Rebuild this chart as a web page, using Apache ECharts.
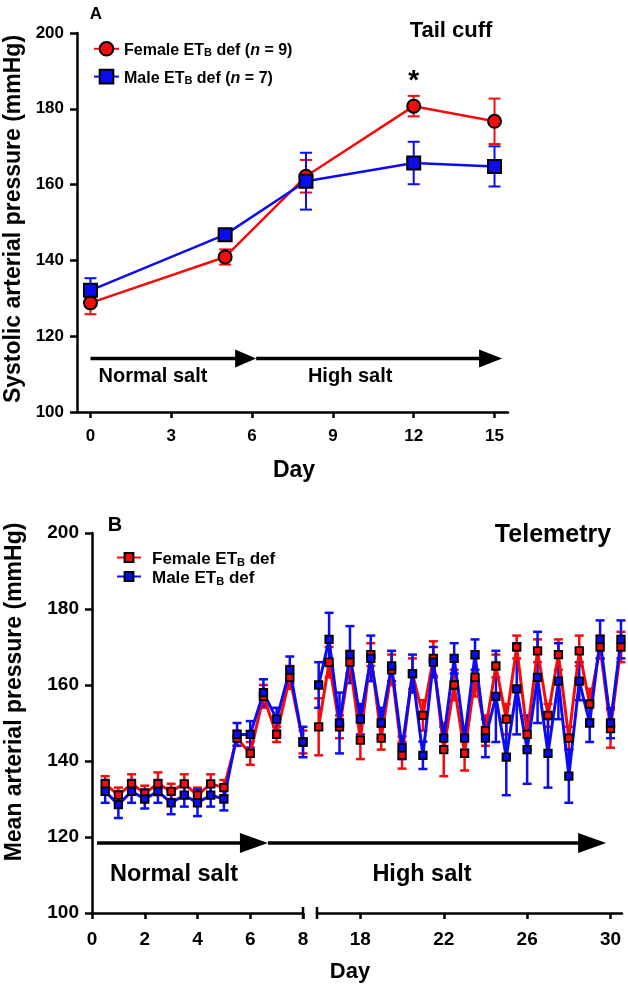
<!DOCTYPE html>
<html><head><meta charset="utf-8">
<script src="https://cdn.jsdelivr.net/npm/echarts@6/dist/echarts.min.js"></script>
<style>html,body{margin:0;padding:0;background:#fff}#main{width:628px;height:989px}</style>
</head><body><div id="main"></div>
<script>
const FONT = "'Liberation Sans', Arial, Helvetica, sans-serif";
const RED = '#f40c0c';
const BLUE = '#0c0cf0';

// ---------- Panel A : Tail cuff ----------
const daysA = [0, 5, 8, 12, 15];
const femaleA = [128.8, 140.9, 162.2, 180.7, 176.7];
const femaleAErr = [3.0, 2.0, 4.3, 2.7, 6.0];
const maleA = [132.1, 146.8, 160.9, 165.7, 164.8];
const maleAErr = [3.2, 1.5, 7.5, 5.6, 5.3];
const ticksA = [0, 3, 6, 9, 12, 15];

// ---------- Panel B : Telemetry ----------
const daysBLeft = [0.5, 1, 1.5, 2, 2.5, 3, 3.5, 4, 4.5, 5, 5.5, 6, 6.5, 7, 7.5, 8];
const femaleBLeft = [134, 131, 134, 131.5, 134, 132, 134, 131, 134, 133, 146, 142, 157, 147, 162, 145];
const femaleBLeftErr = [2, 2, 2.5, 2, 3, 2, 2.5, 2, 2.5, 2, 2, 3, 3, 2, 3, 3];
const maleBLeft = [132, 128.5, 132, 130, 132, 129, 131, 129, 131, 130, 147, 147, 158, 151, 164, 145];
const maleBLeftErr = [3, 3.5, 3, 2.5, 3, 3, 3, 3.5, 3, 3, 3, 3.5, 3.5, 3, 3.5, 4];

const daysBRight = [16, 16.5, 17, 17.5, 18, 18.5, 19, 19.5, 20, 20.5, 21, 21.5, 22, 22.5, 23,
                    23.5, 24, 24.5, 25, 25.5, 26, 26.5, 27, 27.5, 28, 28.5, 29, 29.5, 30, 30.5];
const femaleBRight = [149, 166, 149, 166, 145.5, 168, 146, 164, 141.5, 163, 152, 167, 143, 160, 142,
                      162, 148, 165, 151, 170, 147, 169, 152, 168, 146, 169, 155, 170, 148.5, 170];
const femaleBRightErr = [7.5, 4, 3, 3, 5, 3, 3, 4, 3.5, 4, 4, 4.5, 7, 4, 4.5,
                         5, 4, 3, 4, 3, 4, 3, 3, 4, 3, 4, 4, 3, 5, 4];
const maleBRight = [160, 172, 150, 168, 151, 167, 150, 165, 143.5, 163, 141.5, 166, 146, 167, 146,
                    168, 146, 157, 141, 159, 143, 162, 142, 161, 136, 161, 150, 172, 150, 172];
const maleBRightErr = [6, 7, 8, 7.5, 4, 6, 4, 4, 3, 5, 3.6, 4, 3, 4, 3,
                       4, 5, 12, 10, 12, 9, 12, 9, 10, 7, 5, 5, 5, 4, 5];
const ticksBLeft = [0, 2, 4, 6, 8];
const ticksBRight = [18, 22, 26, 30];

// ---------- helpers ----------
function triples(xs, ys, es) { return xs.map((x, i) => [x, ys[i], es[i]]); }
function pairs(xs, ys) { return xs.map((x, i) => [x, ys[i]]); }
function errRender(color, capHalf, lw) {
  return function (params, api) {
    const x = api.value(0), y = api.value(1), e = api.value(2);
    const t = api.coord([x, y + e]);
    const b = api.coord([x, y - e]);
    const st = { stroke: color, lineWidth: lw, fill: null };
    return { type: 'group', children: [
      { type: 'line', shape: { x1: t[0], y1: t[1], x2: b[0], y2: b[1] }, style: st },
      { type: 'line', shape: { x1: t[0] - capHalf, y1: t[1], x2: t[0] + capHalf, y2: t[1] }, style: st },
      { type: 'line', shape: { x1: b[0] - capHalf, y1: b[1], x2: b[0] + capHalf, y2: b[1] }, style: st }
    ] };
  };
}
function errSeries(name, gi, data, color, capHalf, lw) {
  return { type: 'custom', name: name, xAxisIndex: gi, yAxisIndex: gi, data: data,
    encode: { x: 0, y: 1 }, renderItem: errRender(color, capHalf, lw), clip: false, silent: true, z: 2 };
}
function lineSeries(name, gi, data, color, symbol, size, lw, bw) {
  return { type: 'line', name: name, xAxisIndex: gi, yAxisIndex: gi, data: data,
    symbol: symbol, symbolSize: size, showAllSymbol: true, clip: false, z: 3,
    lineStyle: { color: color, width: lw },
    itemStyle: { color: color, borderColor: '#000', borderWidth: bw },
    emphasis: { disabled: true }, animation: false };
}
const axisLine = { show: true, onZero: false, lineStyle: { color: '#000', width: 2.5 } };
function yAxisDef(gi, fs, show) {
  return { type: 'value', gridIndex: gi, min: 100, max: 200, interval: 20, show: show,
    axisLine: axisLine, splitLine: { show: false },
    axisTick: { show: true, length: 7, lineStyle: { color: '#000', width: 2.5 } },
    axisLabel: { color: '#000', fontSize: fs, fontWeight: 'bold', fontFamily: FONT, margin: 13 } };
}
function richStyles(fs, sub, padLeft) {
  const base = { fontSize: fs, fontWeight: 'bold', fontFamily: FONT, color: '#000', lineHeight: fs + 4, verticalAlign: 'bottom' };
  return {
    p: Object.assign({}, base, { padding: [0, 0, 0, padLeft] }),
    t: base,
    i: Object.assign({}, base, { fontStyle: 'italic' }),
    s: Object.assign({}, base, { fontSize: sub, lineHeight: sub + 1 })
  };
}

const option = {
  backgroundColor: '#fff',
  animation: false,
  grid: [
    { left: 77, top: 33, width: 431, height: 379, containLabel: false },
    { left: 92, top: 533, width: 211, height: 380, containLabel: false },
    { left: 317, top: 533, width: 305, height: 380, containLabel: false }
  ],
  xAxis: [
    { type: 'value', gridIndex: 0, min: -0.5, max: 15.5, axisLine: axisLine, splitLine: { show: false },
      axisTick: { show: true, length: 6, customValues: ticksA, lineStyle: { color: '#000', width: 2.5 } },
      axisLabel: { customValues: ticksA, color: '#000', fontSize: 17, fontWeight: 'bold', fontFamily: FONT, margin: 16 } },
    { type: 'value', gridIndex: 1, min: 0, max: 8, interval: 2, axisLine: axisLine, splitLine: { show: false },
      axisTick: { show: true, length: 6, lineStyle: { color: '#000', width: 2.5 } },
      axisLabel: { color: '#000', fontSize: 19, fontWeight: 'bold', fontFamily: FONT, margin: 17 } },
    { type: 'value', gridIndex: 2, min: 15.92, max: 30.55, axisLine: axisLine, splitLine: { show: false },
      axisTick: { show: true, length: 6, customValues: ticksBRight, lineStyle: { color: '#000', width: 2.5 } },
      axisLabel: { customValues: ticksBRight, color: '#000', fontSize: 19, fontWeight: 'bold', fontFamily: FONT, margin: 17 } }
  ],
  yAxis: [ yAxisDef(0, 17, true), yAxisDef(1, 19, true), yAxisDef(2, 19, false) ],
  legend: [
    { orient: 'vertical', left: 88, top: 36, itemWidth: 25, itemHeight: 17, itemGap: 10,
      data: ['fA', 'mA'], selectedMode: false,
      formatter: function (n) {
        return n === 'fA' ? '{t|Female ET}{s|B}{t| def (}{i|n}{t| = 9)}' : '{t|Male ET}{s|B}{t| def (}{i|n}{t| = 7)}';
      },
      textStyle: { rich: richStyles(16, 11, 0) } },
    { orient: 'vertical', left: 111, top: 546, itemWidth: 24, itemHeight: 11, itemGap: 2,
      data: ['fB', 'mB'], selectedMode: false,
      formatter: function (n) {
        return n === 'fB' ? '{p|Female ET}{s|B}{t| def}' : '{p|Male ET}{s|B}{t| def}';
      },
      textStyle: { rich: richStyles(17, 11, 6) } }
  ],
  series: [
    errSeries('efA', 0, triples(daysA, femaleA, femaleAErr), RED, 6, 2),
    lineSeries('fA', 0, pairs(daysA, femaleA), RED, 'circle', 13, 2.5, 2),
    errSeries('emA', 0, triples(daysA, maleA, maleAErr), BLUE, 6, 2),
    lineSeries('mA', 0, pairs(daysA, maleA), BLUE, 'rect', 13, 2.5, 2),

    errSeries('efBL', 1, triples(daysBLeft, femaleBLeft, femaleBLeftErr), RED, 4.5, 2.5),
    lineSeries('fB', 1, pairs(daysBLeft, femaleBLeft), RED, 'rect', 7.5, 3, 1.8),
    errSeries('efBR', 2, triples(daysBRight, femaleBRight, femaleBRightErr), RED, 4.5, 2.5),
    lineSeries('fB', 2, pairs(daysBRight, femaleBRight), RED, 'rect', 7.5, 3, 1.8),
    errSeries('emBL', 1, triples(daysBLeft, maleBLeft, maleBLeftErr), BLUE, 4.5, 2.5),
    lineSeries('mB', 1, pairs(daysBLeft, maleBLeft), BLUE, 'rect', 7.5, 3, 1.8),
    errSeries('emBR', 2, triples(daysBRight, maleBRight, maleBRightErr), BLUE, 4.5, 2.5),
    lineSeries('mB', 2, pairs(daysBRight, maleBRight), BLUE, 'rect', 7.5, 3, 1.8)
  ]
};

const chart = echarts.init(document.getElementById('main'), null, { renderer: 'canvas' });
chart.setOption(option);

function px(gi, x, y) { return chart.convertToPixel({ gridIndex: gi }, [x, y]); }
function txt(text, x, y, fs, align, extra) {
  return Object.assign({ type: 'text', x: x, y: y, z: 10, style: { text: text, fontSize: fs, fontWeight: 'bold',
    fontFamily: FONT, fill: '#000', align: align || 'center', verticalAlign: 'middle' } }, extra || {});
}
function arrow(p0, p1, headLen, headHalf, lw) {
  return [
    { type: 'line', z: 10, shape: { x1: p0[0], y1: p0[1], x2: p1[0] - headLen + 2, y2: p1[1] }, style: { stroke: '#000', lineWidth: lw } },
    { type: 'polygon', z: 10, shape: { points: [[p1[0] - headLen, p1[1] - headHalf], [p1[0], p1[1]], [p1[0] - headLen, p1[1] + headHalf]] }, style: { fill: '#000' } }
  ];
}
function cap(p) {
  return { type: 'line', z: 10, shape: { x1: p[0], y1: p[1] - 6, x2: p[0], y2: p[1] + 6 }, style: { stroke: '#000', lineWidth: 2.5 } };
}

const aArrowY = 114.1;
const bArrowY = 118.4;
const g = [];
// Panel A annotations
g.push(...arrow(px(0, 0, aArrowY), px(0, 6.15, aArrowY), 21, 9, 3.5));
g.push(...arrow(px(0, 6.15, aArrowY), px(0, 15.28, aArrowY), 23, 9, 3.5));
const nsA = px(0, 2.32, 109.3), hsA = px(0, 9.64, 109.3);
g.push(txt('Normal salt', nsA[0], nsA[1], 20));
g.push(txt('High salt', hsA[0], hsA[1], 20));
const star = px(0, 12, 188.5);
g.push(txt('*', star[0], star[1] + 5, 28));
g.push(txt('A', 96, 14, 17));
g.push(txt('Tail cuff', 451, 31, 22));
g.push(txt('Systolic arterial pressure (mmHg)', 14, 219, 23, 'center', { rotation: Math.PI / 2 }));
g.push(txt('Day', 294, 471, 23));
// Panel B annotations
const b0 = px(1, 0.19, bArrowY), b1 = px(1, 6.67, bArrowY), b2 = px(2, 29.79, bArrowY);
g.push(...arrow(b0, b1, 28, 10, 3.5));
g.push(...arrow(b1, b2, 28, 10, 3.5));
g.push(cap(px(1, 8, 100)));
g.push(cap(px(2, 15.92, 100)));
g.push(txt('Normal salt', 174, 875, 23.5));
g.push(txt('High salt', 422, 875, 23.5));
g.push(txt('B', 115, 525, 20));
g.push(txt('Telemetry', 553, 535, 25));
g.push(txt('Mean arterial pressure (mmHg)', 15, 692, 23, 'center', { rotation: Math.PI / 2 }));
g.push(txt('Day', 350, 972, 22));

chart.setOption({ graphic: g });
</script>
</body></html>
